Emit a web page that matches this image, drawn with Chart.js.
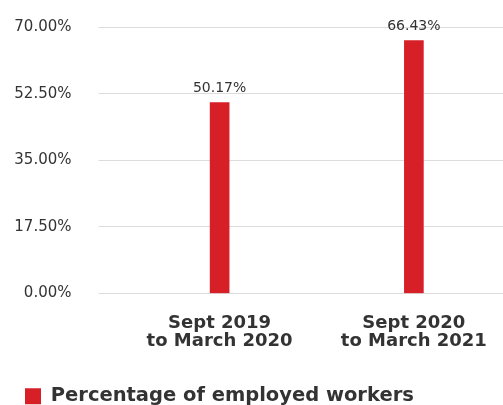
<!DOCTYPE html>
<html>
    <head>
        <title>Employed workers</title>
        <script src="https://cdn.jsdelivr.net/npm/chart.js@4.4.1/dist/chart.umd.min.js"></script>
        <style>
            html, body { margin: 0; padding: 0; background: #fff; overflow: hidden; }
            #wrap { width: 511px; height: 416px; }
        </style>
    </head>
    <body>
        <div id="wrap">
            <canvas id="barChart" width="511" height="416"></canvas>
        </div>

        <script>
            //Periods on the x axis (two lines each)
            const periods = [
                ["Sept 2019", "to March 2020"],
                ["Sept 2020", "to March 2021"]
            ];
            //Share of employed workers for each period, in percent
            const employedShare = [50.17, 66.43];
            //Values shown on the y axis
            const yTicks = [0, 17.5, 35, 52.5, 70];

            const seriesName = "Percentage of employed workers";
            const red = "#d71f28";
            const textColor = "#333333";
            const gridColor = "#dcdcdc";
            const fontFamily = "'DejaVu Sans', sans-serif";

            //Writes the value above each bar
            const valueLabels = {
                id: "valueLabels",
                afterDatasetsDraw(chart) {
                    const ctx = chart.ctx;
                    const meta = chart.getDatasetMeta(0);
                    ctx.save();
                    ctx.font = "14px " + fontFamily;
                    ctx.fillStyle = textColor;
                    ctx.textAlign = "center";
                    ctx.textBaseline = "bottom";
                    meta.data.forEach(function (bar, i) {
                        ctx.fillText(employedShare[i].toFixed(2) + "%", bar.x, bar.y - 7);
                    });
                    ctx.restore();
                }
            };

            const config = {
                type: "bar",
                data: {
                    labels: periods,
                    datasets: [{
                        label: seriesName,
                        data: employedShare,
                        backgroundColor: red,
                        barThickness: 19
                    }]
                },
                options: {
                    responsive: false,
                    animation: false,
                    layout: {
                        padding: { top: 27, left: 10, right: 0, bottom: 0 }
                    },
                    plugins: {
                        tooltip: { enabled: false },
                        legend: {
                            position: "bottom",
                            align: "start",
                            labels: {
                                boxWidth: 16,
                                boxHeight: 16,
                                padding: 15,
                                color: textColor,
                                font: { family: fontFamily, size: 19.5, weight: "bold" }
                            }
                        }
                    },
                    scales: {
                        x: {
                            afterFit(scale) {
                                scale.height = 78;
                            },
                            grid: { display: false, drawTicks: false },
                            border: { display: false },
                            ticks: {
                                color: textColor,
                                padding: 21,
                                maxRotation: 0,
                                font: { family: fontFamily, size: 18, weight: "bold", lineHeight: 1.0 }
                            }
                        },
                        y: {
                            min: 0,
                            max: 70,
                            afterBuildTicks(scale) {
                                scale.ticks = yTicks.map(function (v) { return { value: v }; });
                            },
                            afterFit(scale) {
                                //keep the wide label gap out of the top/bottom padding
                                scale.width = 112.5;
                                scale.paddingTop = 9;
                                scale.paddingBottom = 9;
                            },
                            grid: {
                                color: gridColor,
                                tickColor: gridColor,
                                tickLength: 24,
                                lineWidth: 1
                            },
                            border: { display: false },
                            ticks: {
                                color: textColor,
                                padding: 27,
                                font: { family: fontFamily, size: 15 },
                                callback: function (v) { return v.toFixed(2) + "%"; }
                            }
                        }
                    }
                },
                plugins: [valueLabels]
            };

            new Chart(document.getElementById("barChart"), config);
        </script>
    </body>
</html>
